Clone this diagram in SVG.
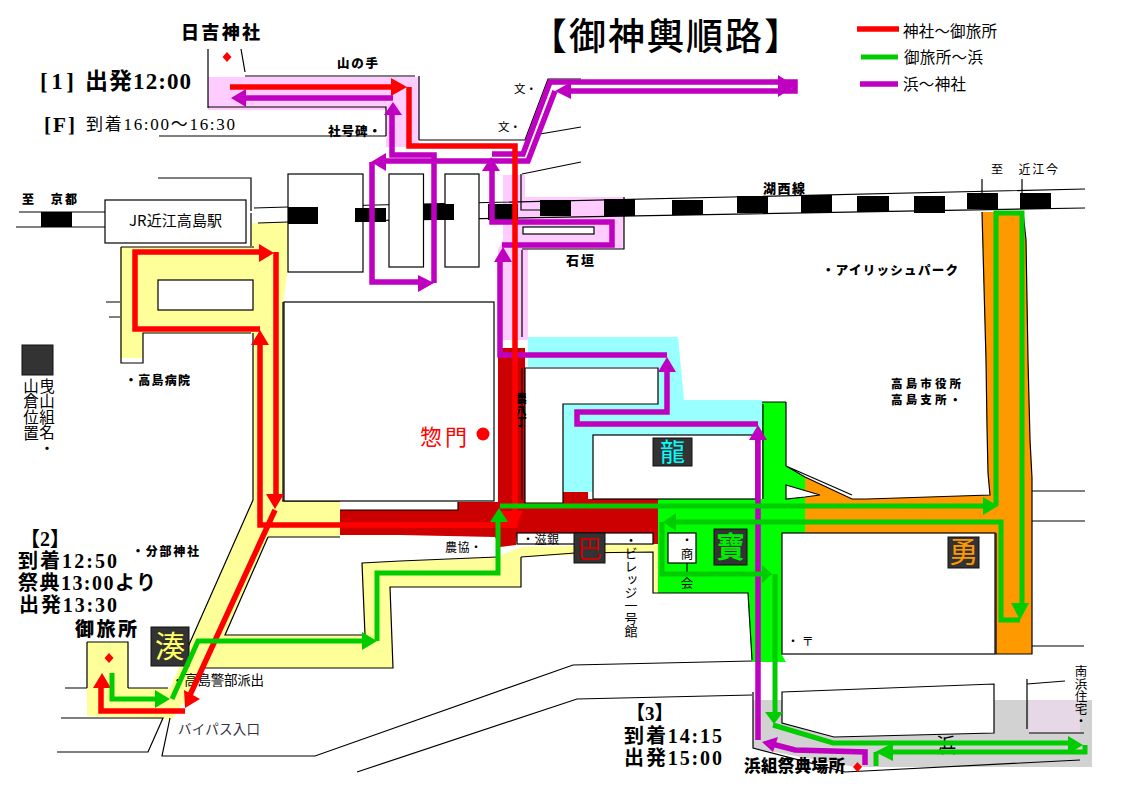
<svg xmlns="http://www.w3.org/2000/svg" width="1123" height="794" viewBox="0 0 1123 794">
<style>
text{font-family:"Liberation Serif","Noto Sans CJK JP",serif;fill:#000}
.s{font-family:"Noto Sans CJK JP","Liberation Sans",sans-serif}
.b{font-family:"Noto Sans CJK JP","Liberation Sans",sans-serif;font-weight:900}
.t{font-family:"Liberation Serif","Noto Sans CJK JP",serif;font-weight:700}
.v{writing-mode:vertical-rl}
.ln{fill:none;stroke:#000;stroke-width:1.2}
.bld{fill:#fff;stroke:#000;stroke-width:1.2}
.rail{fill:#000}
.box{fill:#333;stroke:#111}
.r{fill:none;stroke-width:5.500;stroke-linejoin:miter}
.red{stroke:#f00}.grn{stroke:#0c0;stroke-width:5}.pur{stroke:#c000c0}
.hr{fill:#f00}.hg{fill:#0c0}.hp{fill:#c000c0}
</style>
<rect width="1123" height="794" fill="#fff"/>
<g id="areas">
<path fill="#fcf" d="M208 77H419V147H386V110H208Z"/>
<path fill="#fcf" d="M503 175H525V197H624V249H528V340H498V249L503 240Z"/>
<path fill="#9ff" d="M528 337H678L684 400H762V435H593V492H563V404H658V367H528Z"/>
<path fill="#ff9" d="M252 223H288L287 275L283 305V500H340V537H268L225 635H365L362 563L497 557L521 547L653 544H658V593H653V552L521 557V587H390L393 668H205L193 690L172 719L87 716V642H128V688H170L253 500V333H143V358H120V247H250Z"/>
<path fill="#c00" d="M498 348H525V502H563V492H588V499H658V544H653V533H517V535L516 545L500 547L495 537L400 535H340V510H458V502H498Z"/>
<path fill="#0f0" d="M762 402H786V466L805 477V533H782V655L786 662H752L748 593H658V499H762Z"/>
<path fill="#f90" d="M805 477L852 499H867L990 495L988 473L987 427L986 360L982 212H1023L1026 240L1028 360L1030 440L1032 478V654H996V533H805Z"/>
<path fill="#d2d2d2" d="M753 700H782V723L834 737L994 733V700H1092V767H855L753 748Z"/>
<path fill="#e6d8e6" d="M1029 700H1080V733H1029Z"/>
<path fill="#f00" d="M500 511H523L515 528H400V523H507Z"/>
</g>
<g id="roads">
<path class="ln" d="M208 49V108M241 49L245 72M245 76H415M419 76V140M208 107H386V136M159 136H386M419 140H525L548 79H581M540 134L581 127M522 174L581 162M521 174V210H540"/>
<path class="ln" d="M158 178H251V211M251 213V246M121 247H254M19 212H105M16 227H105M254 208L288 207L1085 189M258 223L288 222L1085 208M982 179V193M1022 179V193"/>
<path class="ln" d="M121 247V363H143V333H251M106 302H120M109 317H120M253 333V500L188 647M283 302V501H340M268 537L225 635H365L362 563L400 561L497 557M521 557L575 553L653 552V593H748L752 660M268 537H340M205 668H393L390 587L400 587H521V557M282 501H340M340 510H458V502"/>
<path class="ln" d="M65 688H87M128 688H168M61 718H163L148 752H57M170 718L162 756H315L573 665L752 661M357 772L577 699L752 695M753 692V748L845 772L1080 760M1027 679V729M1027 684L1065 681M1029 733H1084M1032 491H1085M1032 521H1085M1032 646H1084"/>
<path class="ln" d="M522 249H624V197M522 250V337M87 642H128V688M87 642V688M786 402V466L805 477L852 499H867L990 495L988 473L987 427L986 360L982 212M1023 212L1026 240L1028 360L1030 440L1032 478V654H996V533M762 402H786M786 466L852 495"/>
</g>
<g id="buildings">
<rect class="bld" x="288" y="174" width="75" height="98"/>
<rect class="bld" x="389" y="174" width="34.500" height="93"/>
<rect class="bld" x="445" y="174" width="34" height="93"/>
<rect class="bld" x="105" y="200" width="141" height="43"/>
<rect class="bld" x="158" y="280" width="95" height="30"/>
<rect class="bld" x="523" y="227" width="71" height="7"/>
<rect class="bld" x="284" y="302" width="210" height="199"/>
<path class="bld" d="M525 368H658V404H563V503H525Z"/>
<path class="ln" d="M522 368V500"/>
<rect class="bld" x="593" y="435" width="163" height="64"/>
<path class="ln" d="M763 404V499"/>
<rect class="bld" x="517" y="533" width="136" height="11"/>
<rect class="bld" x="668" y="533" width="28" height="30"/>
<rect class="bld" x="782" y="533" width="213" height="121"/>
<path class="bld" d="M786 485L820 495L805 497L786 499Z"/>
<path class="bld" d="M782 692L994 684V733L834 737L782 723Z"/>
<path class="ln" d="M687 563V575"/>
</g>
<g id="rail">
<rect class="rail" x="41" y="212" width="31" height="15"/>
<rect class="rail" x="288" y="207" width="30" height="17"/>
<rect class="rail" x="355" y="208" width="31" height="14"/>
<rect class="rail" x="423" y="204" width="31" height="16"/>
<rect class="rail" x="488" y="204" width="30" height="16"/>
<rect class="rail" x="540" y="200" width="31" height="16"/>
<rect class="rail" x="604" y="199" width="31" height="17"/>
<rect class="rail" x="672" y="200" width="31" height="15"/>
<rect class="rail" x="737" y="196" width="31" height="17"/>
<rect class="rail" x="801" y="195" width="31" height="18"/>
<rect class="rail" x="857" y="196" width="32" height="16"/>
<rect class="rail" x="914" y="196" width="31" height="17"/>
<rect class="rail" x="967" y="193" width="31" height="16"/>
<rect class="rail" x="1020" y="193" width="31" height="16"/>
</g>
<g id="labels">
<text x="181" y="39" class="b" font-size="18" textLength="79">日吉神社</text>
<text x="530" y="50" class="s" font-size="37" font-weight="500" letter-spacing="2">【御神輿順路】</text>
<text x="903" y="37" class="s" font-size="15.500" textLength="94">神社～御旅所</text>
<text x="904" y="63" class="s" font-size="15.500" textLength="79">御旅所～浜</text>
<text x="903" y="90" class="s" font-size="15.500" textLength="63">浜～神社</text>
<text x="337" y="68" class="b" font-size="12.500" textLength="41">山の手</text>
<text x="40" y="89" class="t" font-size="23" textLength="34">[1]</text>
<text x="85" y="89" class="t" font-size="23" textLength="106">出発12:00</text>
<text x="44" y="132" class="t" font-size="21" textLength="31">[F]</text>
<text x="86" y="130" font-size="17" textLength="149">到着16:00～16:30</text>
<text x="328" y="136" class="b" font-size="12.500" textLength="53">社号碑・</text>
<text x="514" y="93" class="s" font-size="11.500">文・</text>
<text x="498" y="131" class="s" font-size="11.500">文・</text>
<text x="22" y="204" class="b" font-size="12" textLength="55">至　京都</text>
<text x="129" y="226" class="s" font-size="15" textLength="93">JR近江高島駅</text>
<text x="763" y="193" class="b" font-size="13" textLength="42">湖西線</text>
<text x="991" y="174" class="s" font-size="12" textLength="67">至　近江今</text>
<text x="566" y="265" class="b" font-size="13" textLength="28">石垣</text>
<text x="822" y="275" class="b" font-size="12.500" textLength="136">・アイリッシュパーク</text>
<text x="125" y="385" class="b" font-size="12" textLength="65">・高島病院</text>
<text x="891" y="388" class="b" font-size="11.500" textLength="70">高島市役所</text>
<text x="891" y="404" class="b" font-size="11.500" textLength="70">高島支所・</text>
<text x="420" y="445" class="s" font-size="22" style="fill:#f00" textLength="47">惣門</text>
<circle cx="483" cy="434" r="6.500" fill="#f00"/>
<text x="31" y="378" class="s v" font-size="15.500" textLength="63">山倉位置</text>
<text x="47" y="378" class="s v" font-size="15.500">曳山組名・</text>
<text x="20" y="546" class="t" font-size="20">【2】</text>
<text x="18" y="568" class="t" font-size="20" textLength="99">到着12:50</text>
<text x="18" y="590" class="t" font-size="20" textLength="138">祭典13:00より</text>
<text x="19" y="612" class="t" font-size="20" textLength="98">出発13:30</text>
<text x="132" y="556" class="b" font-size="12" textLength="67">・分部神社</text>
<text x="75" y="636" class="b" font-size="19" textLength="62">御旅所</text>
<text x="171" y="685" class="s" font-size="13.500" textLength="93">・高島警部派出</text>
<text x="178" y="734" class="s" font-size="13.500" style="fill:#334" textLength="82">バイパス入口</text>
<text x="445" y="552" class="s" font-size="12" textLength="37">農協・</text>
<text x="522" y="544" class="s" font-size="12" textLength="37">・滋銀</text>
<text x="631" y="534" class="s v" font-size="13">・ビレッジ一号館</text>
<text x="687" y="534" class="s v" font-size="12">・</text>
<text x="687" y="548" class="s v" font-size="12.500">商</text>
<text x="687" y="577" class="s v" font-size="12.500">会</text>
<text x="787" y="646" class="s" font-size="12">・ 〒</text>
<text x="626" y="720" class="t" font-size="19">【3】</text>
<text x="624" y="743" class="t" font-size="20" textLength="98">到着14:15</text>
<text x="624" y="765" class="t" font-size="20" textLength="98">出発15:00</text>
<text x="744" y="772" class="b" font-size="16.500" textLength="101">浜組祭典場所</text>
<text x="1081" y="665" class="s v" font-size="12.500">南浜住宅・</text>
<text x="936" y="753" class="s" font-size="20">浜</text>
<text x="521" y="393" class="b v" font-size="11.500">農八丁</text>
<path fill="#f00" d="M227 52L231.500 57L227 62L222.500 57ZM109 653L113.500 658L109 663L104.500 658ZM857.500 762L862 767L857.500 772L853 767Z"/>
</g>
<g id="boxes">
<rect class="box" x="22" y="345" width="31" height="30"/>
<g id="minato"><rect class="box" x="151" y="627" width="38" height="39"/><text x="155" y="657" class="s" font-size="30" style="fill:#ff6">湊</text></g>
<g id="ryu"><rect class="box" x="653" y="438" width="39" height="28"/><text x="660" y="461" class="s" font-size="25" style="fill:#0ff">龍</text></g>
<g id="tomoe"><rect class="box" x="574" y="533" width="31" height="30"/><text x="577" y="558" class="s" font-size="25" style="fill:#c00">巴</text></g>
<g id="takara"><rect class="box" x="714" y="529" width="33" height="36"/><text x="716" y="558" class="s" font-size="29" font-weight="700" style="fill:#0e0">寶</text></g>
<g id="isami"><rect class="box" x="948" y="537" width="31" height="31"/><text x="949" y="563" class="s" font-size="29" style="fill:#f90">勇</text></g>
</g>
<g id="connectors">
<path class="r pur" d="M865 765V752L795 750L772 744M758 740V438M758 424H577V412H667V370M667 355H500V261M502 245H612V222H492V170M492 154H523L550 82H795V91H570M555 91L528 161H384M372 162V282H420M434 283V155H392V115M393 98H245"/>
<path class="hp" d="M762 742L778 737L773 752ZM758 425L767 440H749ZM667 357L676 372H658ZM503 247L512 262H494ZM491 157L500 171H482ZM795 86L778 75V97ZM555 91L571 82V99ZM371 162L386 153V171ZM434 283L418 275V292ZM393 102L402 115H384ZM231 98L246 89V107Z"/>
<path class="r red" d="M230 87H392M409 87V146H515V525H260V344M260 329H135V252H260M276 252V495M275 510L190 695M185 711H101V688"/>
<path class="hr" d="M407 87L391 78V96ZM260 330L269 345H251ZM274 253L259 244V262ZM275 509L266 494H284ZM185 708L184 690L200 699ZM102 673L111 688H93Z"/>
<path class="r grn" d="M112 673V699H156M172 699L198 641H363M377 641V573H498V522M500 506H984M996 506V213H1022V604M1020 620H1001V522H676M662 522V574H762M775 574V712M773 725L833 743H1069M1085 745V752H892M876 766V752"/>
<path class="hg" d="M170 699L155 690V708ZM377 641L362 632V650ZM499 508L508 522H490ZM998 506L983 497V515ZM1020 620L1029 603H1011ZM663 522L676 513V531ZM772 574L762 565V583ZM774 724L765 712H783ZM1083 745L1068 736V754ZM875 752L893 743V761Z"/>
</g>
<g id="legend">
<path class="r red" d="M857 29H899"/>
<path class="r grn" d="M861 57H898"/>
<path class="r pur" d="M860 84H898"/>
</g>
</svg>
